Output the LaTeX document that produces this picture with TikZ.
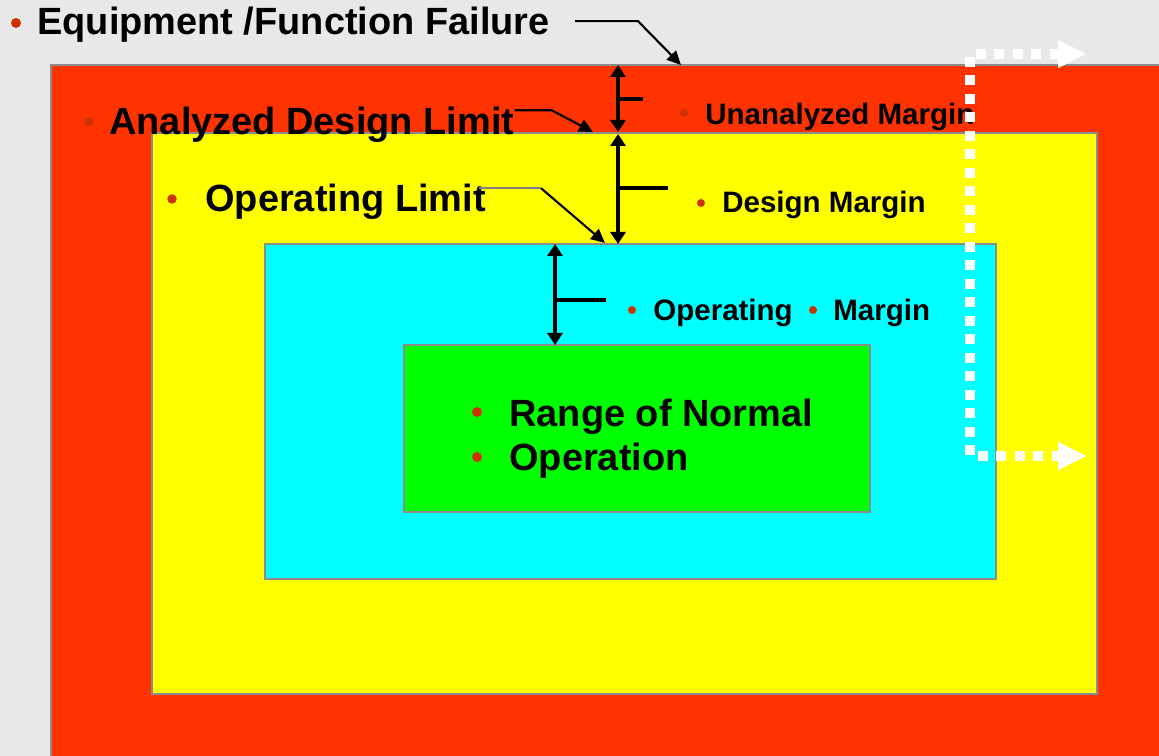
\documentclass[tikz,border=0pt]{standalone}
\usepackage{fontspec}
\setmainfont{Liberation Sans}
\usetikzlibrary{arrows.meta}

\definecolor{slidegray}{HTML}{E8E8E8}
\definecolor{failred}{HTML}{FF3300}
\definecolor{designyellow}{HTML}{FFFF00}
\definecolor{opcyan}{HTML}{00FFFF}
\definecolor{normalgreen}{HTML}{00FF00}
\definecolor{bulletred}{RGB}{204,51,0}

\begin{document}
\begin{tikzpicture}[x=0.02cm, y=-0.02cm,
	line cap=butt, line join=miter,
	boxline/.style={draw=gray!90, line width=0.8pt},
	big/.style={anchor=base west, inner sep=0pt, font=\fontsize{21.6}{26}\selectfont\bfseries},
	small/.style={anchor=base west, inner sep=0pt, font=\fontsize{16.8}{20}\selectfont\bfseries},
	leader/.style={black, line width=1.2pt, -{Triangle[length=0.28cm, width=0.26cm]}},
	span/.style={black, line width=2.3pt, {Triangle[length=0.24cm, width=0.3cm]}-{Triangle[length=0.24cm, width=0.3cm]}},
	tick/.style={black, line width=1.8pt},
	exit/.style={white, line width=0.19cm, dash pattern=on 0.2cm off 0.17cm,
		{Triangle[length=0.58cm, width=0.52cm]}-{Triangle[length=0.58cm, width=0.52cm]}}]
	
	\useasboundingbox (0,0) rectangle (1159,756);
	\clip (0,0) rectangle (1159,756);
	\fill [slidegray] (0,0) rectangle (1159,756);
	
	% nested regions
	\path [boxline, fill=failred] (51,65) rectangle (1175,775);
	\path [boxline, fill=designyellow] (152,133) rectangle (1097,694);
	\path [boxline, fill=opcyan] (265,244) rectangle (996,579);
	\path [boxline, fill=normalgreen] (404,345) rectangle (870,512);
	
	% labels
	\node [big] (eqfail) at (37,35) {Equipment /Function Failure};
	\node [big] (adlimit) at (109,135) {Analyzed Design Limit};
	\node [big] (oplimit) at (205,212) {Operating Limit};
	\node [small] (unmargin) at (705,125) {Unanalyzed Margin};
	\node [small] (dsmargin) at (722,213) {Design Margin};
	\node [small] (opmargin) at (653,321) {Operating};
	\node [small] (margin) at (833,321) {Margin};
	\node [big] (range) at (509,427) {Range of Normal};
	\node [big] (operation) at (509,471) {Operation};
	
	\foreach \bx/\by/\br in {16/23/0.1, 89/122/0.095, 172/199/0.095, 684/113/0.08,
		701/203/0.08, 632/310/0.08, 813/310/0.08, 477/412/0.1, 477/457/0.1}
	\fill [bulletred] (\bx,\by) circle (\br cm);
	
	% pointers to the limits
	\coordinate (eqtip) at (681,65);
	\coordinate (adtip) at (593,132);
	\coordinate (optip) at (605,243);
	
	\draw [leader] ([shift={(25,-4)}]eqfail.east) -- ++(63,0) -- (eqtip);
	\draw [leader] ([shift={(0,-15)}]adlimit.east) -- ++(37,0) -- (adtip);
	\draw [gray, line width=1.2pt] ([shift={(-7,-14)}]oplimit.east) -- ++(62,0) coordinate (opbend);
	\draw [leader] (opbend) -- (optip);
	
	% margins
	\draw [span] (618,65) -- (618,132);
	\draw [tick] (618,99) -- (643,99);
	
	\draw [span] (618,134) -- (618,244);
	\draw [tick] (618,188) -- (668,188);
	
	\draw [span] (555,244) -- (555,345);
	\draw [tick] (555,300) -- (606,300);
	
	% way out of the design region
	\draw [exit] (1087,54) -- (970,54) -- (970,456) -- (1087,456);
	
\end{tikzpicture}
\end{document}
